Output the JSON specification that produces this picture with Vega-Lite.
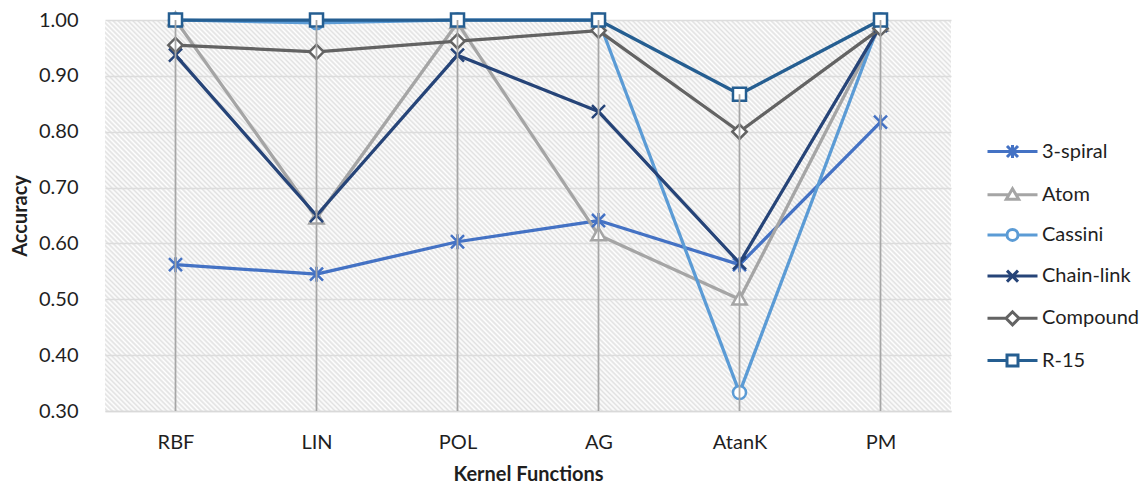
{
  "$schema": "https://vega.github.io/schema/vega-lite/v6.json",
  "width": 846,
  "height": 391,
  "autosize": {"type": "none"},
  "padding": {"left": 105, "top": 20, "right": 196, "bottom": 75},
  "background": "white",
  "view": {
    "stroke": null,
    "fill": {
      "gradient": "linear",
      "x1": 0, "y1": 1, "x2": 1.2048, "y2": 0.4432,
      "stops": [
        {"offset":0,"color":"#fff"},{"offset":0.002,"color":"#e1e1e1"},{"offset":0.004,"color":"#fff"},{"offset":0.006,"color":"#e1e1e1"},{"offset":0.008,"color":"#fff"},{"offset":0.01,"color":"#e1e1e1"},{"offset":0.012,"color":"#fff"},{"offset":0.014,"color":"#e1e1e1"},{"offset":0.016,"color":"#fff"},{"offset":0.018,"color":"#e1e1e1"},
        {"offset":0.02,"color":"#fff"},{"offset":0.022,"color":"#e1e1e1"},{"offset":0.024,"color":"#fff"},{"offset":0.026,"color":"#e1e1e1"},{"offset":0.028,"color":"#fff"},{"offset":0.03,"color":"#e1e1e1"},{"offset":0.032,"color":"#fff"},{"offset":0.034,"color":"#e1e1e1"},{"offset":0.036,"color":"#fff"},{"offset":0.038,"color":"#e1e1e1"},
        {"offset":0.04,"color":"#fff"},{"offset":0.042,"color":"#e1e1e1"},{"offset":0.044,"color":"#fff"},{"offset":0.046,"color":"#e1e1e1"},{"offset":0.048,"color":"#fff"},{"offset":0.05,"color":"#e1e1e1"},{"offset":0.052,"color":"#fff"},{"offset":0.054,"color":"#e1e1e1"},{"offset":0.056,"color":"#fff"},{"offset":0.058,"color":"#e1e1e1"},
        {"offset":0.06,"color":"#fff"},{"offset":0.062,"color":"#e1e1e1"},{"offset":0.064,"color":"#fff"},{"offset":0.066,"color":"#e1e1e1"},{"offset":0.068,"color":"#fff"},{"offset":0.07,"color":"#e1e1e1"},{"offset":0.072,"color":"#fff"},{"offset":0.074,"color":"#e1e1e1"},{"offset":0.076,"color":"#fff"},{"offset":0.078,"color":"#e1e1e1"},
        {"offset":0.08,"color":"#fff"},{"offset":0.082,"color":"#e1e1e1"},{"offset":0.084,"color":"#fff"},{"offset":0.086,"color":"#e1e1e1"},{"offset":0.088,"color":"#fff"},{"offset":0.09,"color":"#e1e1e1"},{"offset":0.092,"color":"#fff"},{"offset":0.094,"color":"#e1e1e1"},{"offset":0.096,"color":"#fff"},{"offset":0.098,"color":"#e1e1e1"},
        {"offset":0.1,"color":"#fff"},{"offset":0.102,"color":"#e1e1e1"},{"offset":0.104,"color":"#fff"},{"offset":0.106,"color":"#e1e1e1"},{"offset":0.108,"color":"#fff"},{"offset":0.11,"color":"#e1e1e1"},{"offset":0.112,"color":"#fff"},{"offset":0.114,"color":"#e1e1e1"},{"offset":0.116,"color":"#fff"},{"offset":0.118,"color":"#e1e1e1"},
        {"offset":0.12,"color":"#fff"},{"offset":0.122,"color":"#e1e1e1"},{"offset":0.124,"color":"#fff"},{"offset":0.126,"color":"#e1e1e1"},{"offset":0.128,"color":"#fff"},{"offset":0.13,"color":"#e1e1e1"},{"offset":0.132,"color":"#fff"},{"offset":0.134,"color":"#e1e1e1"},{"offset":0.136,"color":"#fff"},{"offset":0.138,"color":"#e1e1e1"},
        {"offset":0.14,"color":"#fff"},{"offset":0.142,"color":"#e1e1e1"},{"offset":0.144,"color":"#fff"},{"offset":0.146,"color":"#e1e1e1"},{"offset":0.148,"color":"#fff"},{"offset":0.15,"color":"#e1e1e1"},{"offset":0.152,"color":"#fff"},{"offset":0.154,"color":"#e1e1e1"},{"offset":0.156,"color":"#fff"},{"offset":0.158,"color":"#e1e1e1"},
        {"offset":0.16,"color":"#fff"},{"offset":0.162,"color":"#e1e1e1"},{"offset":0.164,"color":"#fff"},{"offset":0.166,"color":"#e1e1e1"},{"offset":0.168,"color":"#fff"},{"offset":0.17,"color":"#e1e1e1"},{"offset":0.172,"color":"#fff"},{"offset":0.174,"color":"#e1e1e1"},{"offset":0.176,"color":"#fff"},{"offset":0.178,"color":"#e1e1e1"},
        {"offset":0.18,"color":"#fff"},{"offset":0.182,"color":"#e1e1e1"},{"offset":0.184,"color":"#fff"},{"offset":0.186,"color":"#e1e1e1"},{"offset":0.188,"color":"#fff"},{"offset":0.19,"color":"#e1e1e1"},{"offset":0.192,"color":"#fff"},{"offset":0.194,"color":"#e1e1e1"},{"offset":0.196,"color":"#fff"},{"offset":0.198,"color":"#e1e1e1"},
        {"offset":0.2,"color":"#fff"},{"offset":0.202,"color":"#e1e1e1"},{"offset":0.204,"color":"#fff"},{"offset":0.206,"color":"#e1e1e1"},{"offset":0.208,"color":"#fff"},{"offset":0.21,"color":"#e1e1e1"},{"offset":0.212,"color":"#fff"},{"offset":0.214,"color":"#e1e1e1"},{"offset":0.216,"color":"#fff"},{"offset":0.218,"color":"#e1e1e1"},
        {"offset":0.22,"color":"#fff"},{"offset":0.222,"color":"#e1e1e1"},{"offset":0.224,"color":"#fff"},{"offset":0.226,"color":"#e1e1e1"},{"offset":0.228,"color":"#fff"},{"offset":0.23,"color":"#e1e1e1"},{"offset":0.232,"color":"#fff"},{"offset":0.234,"color":"#e1e1e1"},{"offset":0.236,"color":"#fff"},{"offset":0.238,"color":"#e1e1e1"},
        {"offset":0.24,"color":"#fff"},{"offset":0.242,"color":"#e1e1e1"},{"offset":0.244,"color":"#fff"},{"offset":0.246,"color":"#e1e1e1"},{"offset":0.248,"color":"#fff"},{"offset":0.25,"color":"#e1e1e1"},{"offset":0.252,"color":"#fff"},{"offset":0.254,"color":"#e1e1e1"},{"offset":0.256,"color":"#fff"},{"offset":0.258,"color":"#e1e1e1"},
        {"offset":0.26,"color":"#fff"},{"offset":0.262,"color":"#e1e1e1"},{"offset":0.264,"color":"#fff"},{"offset":0.266,"color":"#e1e1e1"},{"offset":0.268,"color":"#fff"},{"offset":0.27,"color":"#e1e1e1"},{"offset":0.272,"color":"#fff"},{"offset":0.274,"color":"#e1e1e1"},{"offset":0.276,"color":"#fff"},{"offset":0.278,"color":"#e1e1e1"},
        {"offset":0.28,"color":"#fff"},{"offset":0.282,"color":"#e1e1e1"},{"offset":0.284,"color":"#fff"},{"offset":0.286,"color":"#e1e1e1"},{"offset":0.288,"color":"#fff"},{"offset":0.29,"color":"#e1e1e1"},{"offset":0.292,"color":"#fff"},{"offset":0.294,"color":"#e1e1e1"},{"offset":0.296,"color":"#fff"},{"offset":0.298,"color":"#e1e1e1"},
        {"offset":0.3,"color":"#fff"},{"offset":0.302,"color":"#e1e1e1"},{"offset":0.304,"color":"#fff"},{"offset":0.306,"color":"#e1e1e1"},{"offset":0.308,"color":"#fff"},{"offset":0.31,"color":"#e1e1e1"},{"offset":0.312,"color":"#fff"},{"offset":0.314,"color":"#e1e1e1"},{"offset":0.316,"color":"#fff"},{"offset":0.318,"color":"#e1e1e1"},
        {"offset":0.32,"color":"#fff"},{"offset":0.322,"color":"#e1e1e1"},{"offset":0.324,"color":"#fff"},{"offset":0.326,"color":"#e1e1e1"},{"offset":0.328,"color":"#fff"},{"offset":0.33,"color":"#e1e1e1"},{"offset":0.332,"color":"#fff"},{"offset":0.334,"color":"#e1e1e1"},{"offset":0.336,"color":"#fff"},{"offset":0.338,"color":"#e1e1e1"},
        {"offset":0.34,"color":"#fff"},{"offset":0.342,"color":"#e1e1e1"},{"offset":0.344,"color":"#fff"},{"offset":0.346,"color":"#e1e1e1"},{"offset":0.348,"color":"#fff"},{"offset":0.35,"color":"#e1e1e1"},{"offset":0.352,"color":"#fff"},{"offset":0.354,"color":"#e1e1e1"},{"offset":0.356,"color":"#fff"},{"offset":0.358,"color":"#e1e1e1"},
        {"offset":0.36,"color":"#fff"},{"offset":0.362,"color":"#e1e1e1"},{"offset":0.364,"color":"#fff"},{"offset":0.366,"color":"#e1e1e1"},{"offset":0.368,"color":"#fff"},{"offset":0.37,"color":"#e1e1e1"},{"offset":0.372,"color":"#fff"},{"offset":0.374,"color":"#e1e1e1"},{"offset":0.376,"color":"#fff"},{"offset":0.378,"color":"#e1e1e1"},
        {"offset":0.38,"color":"#fff"},{"offset":0.382,"color":"#e1e1e1"},{"offset":0.384,"color":"#fff"},{"offset":0.386,"color":"#e1e1e1"},{"offset":0.388,"color":"#fff"},{"offset":0.39,"color":"#e1e1e1"},{"offset":0.392,"color":"#fff"},{"offset":0.394,"color":"#e1e1e1"},{"offset":0.396,"color":"#fff"},{"offset":0.398,"color":"#e1e1e1"},
        {"offset":0.4,"color":"#fff"},{"offset":0.402,"color":"#e1e1e1"},{"offset":0.404,"color":"#fff"},{"offset":0.406,"color":"#e1e1e1"},{"offset":0.408,"color":"#fff"},{"offset":0.41,"color":"#e1e1e1"},{"offset":0.412,"color":"#fff"},{"offset":0.414,"color":"#e1e1e1"},{"offset":0.416,"color":"#fff"},{"offset":0.418,"color":"#e1e1e1"},
        {"offset":0.42,"color":"#fff"},{"offset":0.422,"color":"#e1e1e1"},{"offset":0.424,"color":"#fff"},{"offset":0.426,"color":"#e1e1e1"},{"offset":0.428,"color":"#fff"},{"offset":0.43,"color":"#e1e1e1"},{"offset":0.432,"color":"#fff"},{"offset":0.434,"color":"#e1e1e1"},{"offset":0.436,"color":"#fff"},{"offset":0.438,"color":"#e1e1e1"},
        {"offset":0.44,"color":"#fff"},{"offset":0.442,"color":"#e1e1e1"},{"offset":0.444,"color":"#fff"},{"offset":0.446,"color":"#e1e1e1"},{"offset":0.448,"color":"#fff"},{"offset":0.45,"color":"#e1e1e1"},{"offset":0.452,"color":"#fff"},{"offset":0.454,"color":"#e1e1e1"},{"offset":0.456,"color":"#fff"},{"offset":0.458,"color":"#e1e1e1"},
        {"offset":0.46,"color":"#fff"},{"offset":0.462,"color":"#e1e1e1"},{"offset":0.464,"color":"#fff"},{"offset":0.466,"color":"#e1e1e1"},{"offset":0.468,"color":"#fff"},{"offset":0.47,"color":"#e1e1e1"},{"offset":0.472,"color":"#fff"},{"offset":0.474,"color":"#e1e1e1"},{"offset":0.476,"color":"#fff"},{"offset":0.478,"color":"#e1e1e1"},
        {"offset":0.48,"color":"#fff"},{"offset":0.482,"color":"#e1e1e1"},{"offset":0.484,"color":"#fff"},{"offset":0.486,"color":"#e1e1e1"},{"offset":0.488,"color":"#fff"},{"offset":0.49,"color":"#e1e1e1"},{"offset":0.492,"color":"#fff"},{"offset":0.494,"color":"#e1e1e1"},{"offset":0.496,"color":"#fff"},{"offset":0.498,"color":"#e1e1e1"},
        {"offset":0.5,"color":"#fff"},{"offset":0.502,"color":"#e1e1e1"},{"offset":0.504,"color":"#fff"},{"offset":0.506,"color":"#e1e1e1"},{"offset":0.508,"color":"#fff"},{"offset":0.51,"color":"#e1e1e1"},{"offset":0.512,"color":"#fff"},{"offset":0.514,"color":"#e1e1e1"},{"offset":0.516,"color":"#fff"},{"offset":0.518,"color":"#e1e1e1"},
        {"offset":0.52,"color":"#fff"},{"offset":0.522,"color":"#e1e1e1"},{"offset":0.524,"color":"#fff"},{"offset":0.526,"color":"#e1e1e1"},{"offset":0.528,"color":"#fff"},{"offset":0.53,"color":"#e1e1e1"},{"offset":0.532,"color":"#fff"},{"offset":0.534,"color":"#e1e1e1"},{"offset":0.536,"color":"#fff"},{"offset":0.538,"color":"#e1e1e1"},
        {"offset":0.54,"color":"#fff"},{"offset":0.542,"color":"#e1e1e1"},{"offset":0.544,"color":"#fff"},{"offset":0.546,"color":"#e1e1e1"},{"offset":0.548,"color":"#fff"},{"offset":0.55,"color":"#e1e1e1"},{"offset":0.552,"color":"#fff"},{"offset":0.554,"color":"#e1e1e1"},{"offset":0.556,"color":"#fff"},{"offset":0.558,"color":"#e1e1e1"},
        {"offset":0.56,"color":"#fff"},{"offset":0.562,"color":"#e1e1e1"},{"offset":0.564,"color":"#fff"},{"offset":0.566,"color":"#e1e1e1"},{"offset":0.568,"color":"#fff"},{"offset":0.57,"color":"#e1e1e1"},{"offset":0.572,"color":"#fff"},{"offset":0.574,"color":"#e1e1e1"},{"offset":0.576,"color":"#fff"},{"offset":0.578,"color":"#e1e1e1"},
        {"offset":0.58,"color":"#fff"},{"offset":0.582,"color":"#e1e1e1"},{"offset":0.584,"color":"#fff"},{"offset":0.586,"color":"#e1e1e1"},{"offset":0.588,"color":"#fff"},{"offset":0.59,"color":"#e1e1e1"},{"offset":0.592,"color":"#fff"},{"offset":0.594,"color":"#e1e1e1"},{"offset":0.596,"color":"#fff"},{"offset":0.598,"color":"#e1e1e1"},
        {"offset":0.6,"color":"#fff"},{"offset":0.602,"color":"#e1e1e1"},{"offset":0.604,"color":"#fff"},{"offset":0.606,"color":"#e1e1e1"},{"offset":0.608,"color":"#fff"},{"offset":0.61,"color":"#e1e1e1"},{"offset":0.612,"color":"#fff"},{"offset":0.614,"color":"#e1e1e1"},{"offset":0.616,"color":"#fff"},{"offset":0.618,"color":"#e1e1e1"},
        {"offset":0.62,"color":"#fff"},{"offset":0.622,"color":"#e1e1e1"},{"offset":0.624,"color":"#fff"},{"offset":0.626,"color":"#e1e1e1"},{"offset":0.628,"color":"#fff"},{"offset":0.63,"color":"#e1e1e1"},{"offset":0.632,"color":"#fff"},{"offset":0.634,"color":"#e1e1e1"},{"offset":0.636,"color":"#fff"},{"offset":0.638,"color":"#e1e1e1"},
        {"offset":0.64,"color":"#fff"},{"offset":0.642,"color":"#e1e1e1"},{"offset":0.644,"color":"#fff"},{"offset":0.646,"color":"#e1e1e1"},{"offset":0.648,"color":"#fff"},{"offset":0.65,"color":"#e1e1e1"},{"offset":0.652,"color":"#fff"},{"offset":0.654,"color":"#e1e1e1"},{"offset":0.656,"color":"#fff"},{"offset":0.658,"color":"#e1e1e1"},
        {"offset":0.66,"color":"#fff"},{"offset":0.662,"color":"#e1e1e1"},{"offset":0.664,"color":"#fff"},{"offset":0.666,"color":"#e1e1e1"},{"offset":0.668,"color":"#fff"},{"offset":0.67,"color":"#e1e1e1"},{"offset":0.672,"color":"#fff"},{"offset":0.674,"color":"#e1e1e1"},{"offset":0.676,"color":"#fff"},{"offset":0.678,"color":"#e1e1e1"},
        {"offset":0.68,"color":"#fff"},{"offset":0.682,"color":"#e1e1e1"},{"offset":0.684,"color":"#fff"},{"offset":0.686,"color":"#e1e1e1"},{"offset":0.688,"color":"#fff"},{"offset":0.69,"color":"#e1e1e1"},{"offset":0.692,"color":"#fff"},{"offset":0.694,"color":"#e1e1e1"},{"offset":0.696,"color":"#fff"},{"offset":0.698,"color":"#e1e1e1"},
        {"offset":0.7,"color":"#fff"},{"offset":0.702,"color":"#e1e1e1"},{"offset":0.704,"color":"#fff"},{"offset":0.706,"color":"#e1e1e1"},{"offset":0.708,"color":"#fff"},{"offset":0.71,"color":"#e1e1e1"},{"offset":0.712,"color":"#fff"},{"offset":0.714,"color":"#e1e1e1"},{"offset":0.716,"color":"#fff"},{"offset":0.718,"color":"#e1e1e1"},
        {"offset":0.72,"color":"#fff"},{"offset":0.722,"color":"#e1e1e1"},{"offset":0.724,"color":"#fff"},{"offset":0.726,"color":"#e1e1e1"},{"offset":0.728,"color":"#fff"},{"offset":0.73,"color":"#e1e1e1"},{"offset":0.732,"color":"#fff"},{"offset":0.734,"color":"#e1e1e1"},{"offset":0.736,"color":"#fff"},{"offset":0.738,"color":"#e1e1e1"},
        {"offset":0.74,"color":"#fff"},{"offset":0.742,"color":"#e1e1e1"},{"offset":0.744,"color":"#fff"},{"offset":0.746,"color":"#e1e1e1"},{"offset":0.748,"color":"#fff"},{"offset":0.75,"color":"#e1e1e1"},{"offset":0.752,"color":"#fff"},{"offset":0.754,"color":"#e1e1e1"},{"offset":0.756,"color":"#fff"},{"offset":0.758,"color":"#e1e1e1"},
        {"offset":0.76,"color":"#fff"},{"offset":0.762,"color":"#e1e1e1"},{"offset":0.764,"color":"#fff"},{"offset":0.766,"color":"#e1e1e1"},{"offset":0.768,"color":"#fff"},{"offset":0.77,"color":"#e1e1e1"},{"offset":0.772,"color":"#fff"},{"offset":0.774,"color":"#e1e1e1"},{"offset":0.776,"color":"#fff"},{"offset":0.778,"color":"#e1e1e1"},
        {"offset":0.78,"color":"#fff"},{"offset":0.782,"color":"#e1e1e1"},{"offset":0.784,"color":"#fff"},{"offset":0.786,"color":"#e1e1e1"},{"offset":0.788,"color":"#fff"},{"offset":0.79,"color":"#e1e1e1"},{"offset":0.792,"color":"#fff"},{"offset":0.794,"color":"#e1e1e1"},{"offset":0.796,"color":"#fff"},{"offset":0.798,"color":"#e1e1e1"},
        {"offset":0.8,"color":"#fff"},{"offset":0.802,"color":"#e1e1e1"},{"offset":0.804,"color":"#fff"},{"offset":0.806,"color":"#e1e1e1"},{"offset":0.808,"color":"#fff"},{"offset":0.81,"color":"#e1e1e1"},{"offset":0.812,"color":"#fff"},{"offset":0.814,"color":"#e1e1e1"},{"offset":0.816,"color":"#fff"},{"offset":0.818,"color":"#e1e1e1"},
        {"offset":0.82,"color":"#fff"},{"offset":0.822,"color":"#e1e1e1"},{"offset":0.824,"color":"#fff"},{"offset":0.826,"color":"#e1e1e1"},{"offset":0.828,"color":"#fff"},{"offset":0.83,"color":"#e1e1e1"},{"offset":0.832,"color":"#fff"},{"offset":0.834,"color":"#e1e1e1"},{"offset":0.836,"color":"#fff"},{"offset":0.838,"color":"#e1e1e1"},
        {"offset":0.84,"color":"#fff"},{"offset":0.842,"color":"#e1e1e1"},{"offset":0.844,"color":"#fff"},{"offset":0.846,"color":"#e1e1e1"},{"offset":0.848,"color":"#fff"},{"offset":0.85,"color":"#e1e1e1"},{"offset":0.852,"color":"#fff"},{"offset":0.854,"color":"#e1e1e1"},{"offset":0.856,"color":"#fff"},{"offset":0.858,"color":"#e1e1e1"},
        {"offset":0.86,"color":"#fff"},{"offset":0.862,"color":"#e1e1e1"},{"offset":0.864,"color":"#fff"},{"offset":0.866,"color":"#e1e1e1"},{"offset":0.868,"color":"#fff"},{"offset":0.87,"color":"#e1e1e1"},{"offset":0.872,"color":"#fff"},{"offset":0.874,"color":"#e1e1e1"},{"offset":0.876,"color":"#fff"},{"offset":0.878,"color":"#e1e1e1"},
        {"offset":0.88,"color":"#fff"},{"offset":0.882,"color":"#e1e1e1"},{"offset":0.884,"color":"#fff"},{"offset":0.886,"color":"#e1e1e1"},{"offset":0.888,"color":"#fff"},{"offset":0.89,"color":"#e1e1e1"},{"offset":0.892,"color":"#fff"},{"offset":0.894,"color":"#e1e1e1"},{"offset":0.896,"color":"#fff"},{"offset":0.898,"color":"#e1e1e1"},
        {"offset":0.9,"color":"#fff"},{"offset":0.902,"color":"#e1e1e1"},{"offset":0.904,"color":"#fff"},{"offset":0.906,"color":"#e1e1e1"},{"offset":0.908,"color":"#fff"},{"offset":0.91,"color":"#e1e1e1"},{"offset":0.912,"color":"#fff"},{"offset":0.914,"color":"#e1e1e1"},{"offset":0.916,"color":"#fff"},{"offset":0.918,"color":"#e1e1e1"},
        {"offset":0.92,"color":"#fff"},{"offset":0.922,"color":"#e1e1e1"},{"offset":0.924,"color":"#fff"},{"offset":0.926,"color":"#e1e1e1"},{"offset":0.928,"color":"#fff"},{"offset":0.93,"color":"#e1e1e1"},{"offset":0.932,"color":"#fff"},{"offset":0.934,"color":"#e1e1e1"},{"offset":0.936,"color":"#fff"},{"offset":0.938,"color":"#e1e1e1"},
        {"offset":0.94,"color":"#fff"},{"offset":0.942,"color":"#e1e1e1"},{"offset":0.944,"color":"#fff"},{"offset":0.946,"color":"#e1e1e1"},{"offset":0.948,"color":"#fff"},{"offset":0.95,"color":"#e1e1e1"},{"offset":0.952,"color":"#fff"},{"offset":0.954,"color":"#e1e1e1"},{"offset":0.956,"color":"#fff"},{"offset":0.958,"color":"#e1e1e1"},
        {"offset":0.96,"color":"#fff"},{"offset":0.962,"color":"#e1e1e1"},{"offset":0.964,"color":"#fff"},{"offset":0.966,"color":"#e1e1e1"},{"offset":0.968,"color":"#fff"},{"offset":0.97,"color":"#e1e1e1"},{"offset":0.972,"color":"#fff"},{"offset":0.974,"color":"#e1e1e1"},{"offset":0.976,"color":"#fff"},{"offset":0.978,"color":"#e1e1e1"},
        {"offset":0.98,"color":"#fff"},{"offset":0.982,"color":"#e1e1e1"},{"offset":0.984,"color":"#fff"},{"offset":0.986,"color":"#e1e1e1"},{"offset":0.988,"color":"#fff"},{"offset":0.99,"color":"#e1e1e1"},{"offset":0.992,"color":"#fff"},{"offset":0.994,"color":"#e1e1e1"},{"offset":0.996,"color":"#fff"},{"offset":0.998,"color":"#e1e1e1"},
        {"offset":1,"color":"#fff"}
      ]
    }
  },
  "data": {
    "values": [
      {"kernel": "RBF", "dataset": "3-spiral", "accuracy": 0.562},
      {"kernel": "LIN", "dataset": "3-spiral", "accuracy": 0.545},
      {"kernel": "POL", "dataset": "3-spiral", "accuracy": 0.603},
      {"kernel": "AG", "dataset": "3-spiral", "accuracy": 0.641},
      {"kernel": "AtanK", "dataset": "3-spiral", "accuracy": 0.562},
      {"kernel": "PM", "dataset": "3-spiral", "accuracy": 0.817},
      {"kernel": "RBF", "dataset": "Atom", "accuracy": 1.0},
      {"kernel": "LIN", "dataset": "Atom", "accuracy": 0.645},
      {"kernel": "POL", "dataset": "Atom", "accuracy": 0.995},
      {"kernel": "AG", "dataset": "Atom", "accuracy": 0.615},
      {"kernel": "AtanK", "dataset": "Atom", "accuracy": 0.5},
      {"kernel": "PM", "dataset": "Atom", "accuracy": 0.99},
      {"kernel": "RBF", "dataset": "Cassini", "accuracy": 1.0},
      {"kernel": "LIN", "dataset": "Cassini", "accuracy": 0.995},
      {"kernel": "POL", "dataset": "Cassini", "accuracy": 1.0},
      {"kernel": "AG", "dataset": "Cassini", "accuracy": 1.0},
      {"kernel": "AtanK", "dataset": "Cassini", "accuracy": 0.333},
      {"kernel": "PM", "dataset": "Cassini", "accuracy": 1.0},
      {"kernel": "RBF", "dataset": "Chain-link", "accuracy": 0.937},
      {"kernel": "LIN", "dataset": "Chain-link", "accuracy": 0.65},
      {"kernel": "POL", "dataset": "Chain-link", "accuracy": 0.937},
      {"kernel": "AG", "dataset": "Chain-link", "accuracy": 0.836},
      {"kernel": "AtanK", "dataset": "Chain-link", "accuracy": 0.565},
      {"kernel": "PM", "dataset": "Chain-link", "accuracy": 0.99},
      {"kernel": "RBF", "dataset": "Compound", "accuracy": 0.955},
      {"kernel": "LIN", "dataset": "Compound", "accuracy": 0.943},
      {"kernel": "POL", "dataset": "Compound", "accuracy": 0.962},
      {"kernel": "AG", "dataset": "Compound", "accuracy": 0.981},
      {"kernel": "AtanK", "dataset": "Compound", "accuracy": 0.8},
      {"kernel": "PM", "dataset": "Compound", "accuracy": 0.985},
      {"kernel": "RBF", "dataset": "R-15", "accuracy": 1.0},
      {"kernel": "LIN", "dataset": "R-15", "accuracy": 1.0},
      {"kernel": "POL", "dataset": "R-15", "accuracy": 1.0},
      {"kernel": "AG", "dataset": "R-15", "accuracy": 1.0},
      {"kernel": "AtanK", "dataset": "R-15", "accuracy": 0.867},
      {"kernel": "PM", "dataset": "R-15", "accuracy": 1.0}
    ]
  },
  "encoding": {
    "x": {
      "field": "kernel",
      "type": "nominal",
      "sort": ["RBF", "LIN", "POL", "AG", "AtanK", "PM"],
      "scale": {"type": "point", "padding": 0.5},
      "axis": {
        "title": "Kernel Functions",
        "labelAngle": 0,
        "ticks": false,
        "tickSize": 0,
        "grid": false,
        "domainColor": "#d9d9d9",
        "domainWidth": 1.5,
        "labelPadding": 31,
        "labelBaseline": "middle",
        "titleY": 63,
        "titleBaseline": "middle"
      }
    },
    "y": {
      "field": "accuracy",
      "type": "quantitative",
      "scale": {"domain": [0.3, 1.0], "nice": false, "zero": false},
      "axis": {
        "title": "Accuracy",
        "values": [0.3, 0.4, 0.5, 0.6, 0.7, 0.8, 0.9, 1.0],
        "format": ".2f",
        "ticks": false,
        "tickSize": 0,
        "domain": false,
        "grid": true,
        "gridColor": "#dcdcdc",
        "gridWidth": 1.5,
        "labelPadding": 27,
        "titleX": -85,
        "titleY": 195.5,
        "titleAngle": 270,
        "titleAlign": "center",
        "titleBaseline": "middle"
      }
    }
  },
  "layer": [
    {
      "mark": {"type": "line", "strokeWidth": 3.25, "strokeJoin": "round", "strokeCap": "round"},
      "encoding": {
        "stroke": {
          "field": "dataset",
          "type": "nominal",
          "scale": {
            "domain": ["3-spiral", "Atom", "Cassini", "Chain-link", "Compound", "R-15"],
            "range": ["#4472C4", "#A5A5A5", "#5B9BD5", "#264478", "#636363", "#255E91"]
          },
          "legend": {"title": null}
        }
      }
    },
    {
      "transform": [{"filter": "false"}],
      "mark": {"type": "point", "filled": false, "strokeWidth": 3, "opacity": 1},
      "encoding": {
        "stroke": {"field": "dataset", "type": "nominal", "legend": {"title": null}},
        "shape": {
          "field": "dataset",
          "type": "nominal",
          "legend": {"title": null},
          "scale": {
            "domain": ["3-spiral", "Atom", "Cassini", "Chain-link", "Compound", "R-15"],
            "range": [
              "M-2.5,0H2.5M-0.55,-0.55L0.55,0.55M-0.55,0.55L0.55,-0.55M0,-0.65V0.65",
              "M-2.5,0H-0.36M0.36,0H2.5M0,-0.6L0.62,0.45L-0.62,0.45Z",
              "M-2.5,0H-0.55M0.55,0H2.5M-0.55,0A0.55,0.55,0,1,0,0.55,0A0.55,0.55,0,1,0,-0.55,0Z",
              "M-2.5,0H2.5M-0.55,-0.55L0.55,0.55M-0.55,0.55L0.55,-0.55",
              "M-2.5,0H-0.65M0.65,0H2.5M-0.65,0L0,-0.65L0.65,0L0,0.65Z",
              "M-2.5,0H-0.55M0.55,0H2.5M-0.55,-0.55H0.55V0.55H-0.55Z"
            ]
          }
        }
      }
    },
    {
      "transform": [{"filter": "datum.dataset === '3-spiral'"}],
      "mark": {"type": "point", "shape": "M-1,-1L1,1M-1,1L1,-1M0,-1.15V1.15", "filled": false, "fill": "white", "stroke": "#4472C4", "strokeWidth": 2.5, "size": 170, "opacity": 1}
    },
    {
      "transform": [{"filter": "datum.dataset === 'Atom'"}],
      "mark": {"type": "point", "shape": "M0,-1.15L1.1,0.8L-1.1,0.8Z", "filled": false, "fill": "white", "fillOpacity": 1, "stroke": "#A5A5A5", "strokeWidth": 2.5, "size": 170, "opacity": 1}
    },
    {
      "transform": [{"filter": "datum.dataset === 'Cassini'"}],
      "mark": {"type": "point", "shape": "circle", "filled": false, "fill": "white", "fillOpacity": 1, "stroke": "#5B9BD5", "strokeWidth": 2.5, "size": 170, "opacity": 1}
    },
    {
      "transform": [{"filter": "datum.dataset === 'Chain-link'"}],
      "mark": {"type": "point", "shape": "M-1,-1L1,1M-1,1L1,-1", "filled": false, "stroke": "#264478", "strokeWidth": 2.5, "size": 170, "opacity": 1}
    },
    {
      "transform": [{"filter": "datum.dataset === 'Compound'"}],
      "mark": {"type": "point", "shape": "M-1.1,0L0,-1.1L1.1,0L0,1.1Z", "filled": false, "fill": "white", "fillOpacity": 1, "stroke": "#636363", "strokeWidth": 2.5, "size": 170, "opacity": 1}
    },
    {
      "transform": [{"filter": "datum.dataset === 'R-15'"}],
      "mark": {"type": "point", "shape": "square", "filled": false, "fill": "white", "fillOpacity": 1, "stroke": "#255E91", "strokeWidth": 2.5, "size": 170, "opacity": 1}
    },
    {
      "mark": {"type": "rule", "color": "#a6a6a6", "strokeWidth": 1.75},
      "encoding": {
        "y": {"aggregate": "max", "field": "accuracy", "type": "quantitative"},
        "y2": {"datum": 0.3}
      }
    }
  ],
  "config": {
    "font": "Lato",
    "axis": {
      "labelFont": "Lato",
      "labelFontSize": 20,
      "labelColor": "#1f1f1f",
      "titleFont": "Lato",
      "titleFontSize": 20,
      "titleFontWeight": "bold",
      "titleColor": "#1f1f1f"
    },
    "legend": {
      "orient": "none",
      "legendX": 896,
      "legendY": 120,
      "symbolSize": 400,
      "symbolStrokeWidth": 3,
      "symbolFillColor": "white",
      "labelOffset": 18,
      "rowPadding": 18.2,
      "padding": 0,
      "labelFont": "Lato",
      "labelFontSize": 20,
      "labelColor": "#1f1f1f"
    }
  }
}
